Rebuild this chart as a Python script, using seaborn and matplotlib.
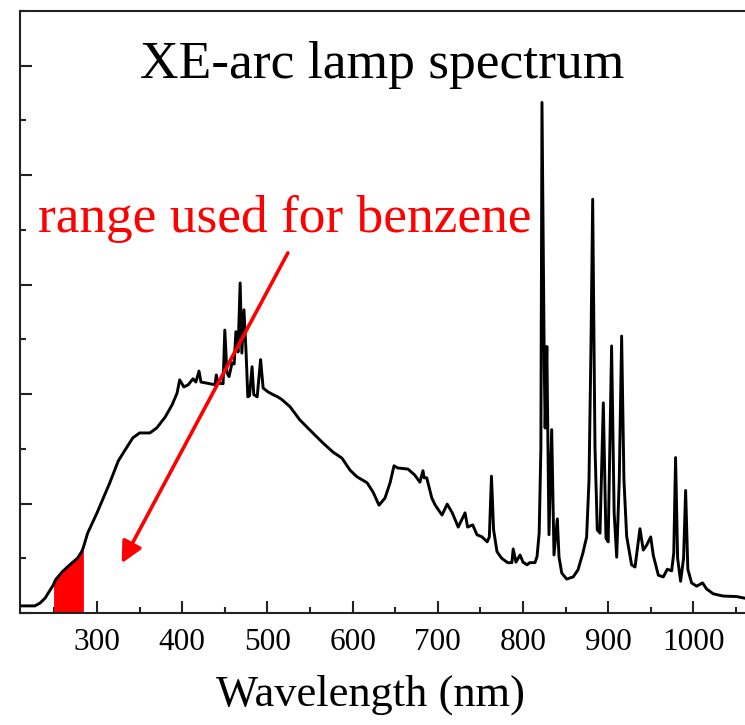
import matplotlib
matplotlib.use("Agg")
import matplotlib.pyplot as plt
from matplotlib.ticker import MultipleLocator, NullFormatter
import seaborn as sns
import pandas as pd
import numpy as np

# ---- data ----
wavelength = [209.6, 220, 227, 233, 239, 245, 249, 251, 259, 268, 277, 282, 284, 289, 300,
              315, 321, 325, 333, 342, 350, 362, 370, 380, 388, 394, 397, 402, 407, 412.7,
              416, 419.7, 422, 429, 438.5, 440, 442, 448, 450, 452.5, 455, 458.5, 461, 463,
              465.5, 468, 470, 472.5, 475, 477, 479, 482, 484, 488, 492, 495, 500.7, 506.6,
              512, 517, 526.5, 538, 552, 565, 577, 587.5, 597, 605, 617, 624, 631, 638, 644,
              648.6, 653, 665, 673, 679, 682.6, 684, 687, 693, 697, 705, 711, 717, 724, 732,
              735, 741, 746, 752, 758, 760.5, 763, 765.5, 769.5, 775, 782, 787, 788.5, 791.8,
              796.5, 800, 804.7, 808, 814, 816.5, 819, 821, 822.3, 825, 826, 828, 830.5,
              833.7, 836.4, 840.3, 842.3, 845.5, 851.3, 859, 864.6, 870.4, 874.7, 877.5,
              879.8, 881.8, 884.5, 887.2, 890.4, 894.3, 897.4, 900, 904, 907, 910, 913,
              915.8, 918.5, 921.7, 927.5, 931.5, 934.6, 937.3, 941.2, 945.2, 949.9, 953,
              958.9, 964.7, 969.4, 974.5, 977, 979.1, 981.5, 985, 988.5, 990.9, 993.5,
              997.9, 1003.8, 1010.8, 1015.5, 1023.4, 1035, 1050.8, 1060.6]
intensity = [0.13, 0.13, 0.13, 0.18, 0.27, 0.42, 0.52, 0.60, 0.75, 0.88, 1.00, 1.12, 1.20, 1.46, 1.83,
             2.38, 2.62, 2.78, 2.98, 3.20, 3.29, 3.29, 3.38, 3.58, 3.80, 4.02, 4.26, 4.13, 4.17, 4.28,
             4.22, 4.42, 4.22, 4.20, 4.17, 4.35, 4.20, 4.19, 5.17, 4.39, 4.32, 4.57, 4.55, 5.14,
             4.77, 6.03, 4.75, 5.54, 4.75, 3.95, 3.97, 4.50, 3.99, 3.95, 4.63, 4.11, 4.04, 3.99,
             3.95, 3.90, 3.77, 3.53, 3.31, 3.11, 2.94, 2.83, 2.61, 2.49, 2.38, 2.21, 1.97, 2.10, 2.38,
             2.69, 2.65, 2.63, 2.52, 2.39, 2.60, 2.47, 2.47, 2.10, 1.97, 1.79, 1.99, 1.83, 1.57, 1.83,
             1.57, 1.61, 1.43, 1.39, 1.30, 1.39, 2.50, 1.52, 1.12, 1.00, 0.92, 0.92, 1.17, 0.93,
             1.06, 0.93, 0.88, 0.92, 0.92, 1.03, 1.46, 3.00, 9.33, 4.50, 3.38, 4.87, 1.43,
             3.35, 1.06, 1.72, 1.02, 0.73, 0.62, 0.66, 0.79, 1.10, 1.39, 2.43,
             4.87, 7.56, 3.04, 1.52, 1.46, 3.84, 1.37, 1.30, 4.88, 1.83, 1.02, 2.43,
             5.06, 2.43, 1.40, 0.88, 0.84, 1.21, 1.54, 1.15, 1.24, 1.39, 1.05,
             0.69, 0.66, 0.80, 0.77, 1.10, 2.84, 1.00, 0.58, 1.00, 2.24, 0.80,
             0.55, 0.49, 0.55, 0.44, 0.35, 0.31, 0.30, 0.27]
benzene_range = [249, 284]
x_ticks = [300, 400, 500, 600, 700, 800, 900, 1000]
title_text = "XE-arc lamp spectrum"
range_text = "range used for benzene"
x_label = "Wavelength (nm)"
arrow_start = (524, 6.58)
arrow_end = (329, 0.91)

df = pd.DataFrame({"wavelength": wavelength, "intensity": intensity})

sns.set_theme(style="ticks")
plt.rcParams["font.family"] = ["Liberation Serif", "DejaVu Serif"]
plt.rcParams["text.color"] = "black"
plt.rcParams["axes.labelcolor"] = "black"
plt.rcParams["xtick.color"] = "black"
plt.rcParams["ytick.color"] = "black"

fig = plt.figure(figsize=(7.45, 7.25), dpi=100)
ax = fig.add_axes([20 / 745, 112 / 725, 725 / 745, 602 / 725])

wl = np.array(wavelength)
iv = np.array(intensity)
mask = (wl >= benzene_range[0]) & (wl <= benzene_range[1])
ax.fill_between(wl, 0, iv, where=mask, color="#ff0000", linewidth=0, zorder=2)

sns.lineplot(data=df, x="wavelength", y="intensity", color="black", linewidth=2.1,
             sort=False, estimator=None, ax=ax, zorder=3)

ax.set_xlim(209.6, 1060.6)
ax.set_ylim(0, 11)
ax.set_xticks(x_ticks)
ax.xaxis.set_minor_locator(MultipleLocator(50))
ax.yaxis.set_major_locator(MultipleLocator(2))
ax.yaxis.set_minor_locator(MultipleLocator(1))
ax.yaxis.set_major_formatter(NullFormatter())
ax.set_ylabel("")
ax.tick_params(axis="both", which="major", direction="in", length=8.5, width=1.5,
               color="#222222", labelcolor="black", labelsize=22.5, pad=10.5)
ax.tick_params(axis="both", which="minor", direction="in", length=4.3, width=1.5,
               color="#222222")
ax.tick_params(axis="x", which="both", top=False)
ax.tick_params(axis="y", which="both", right=False)
for name in ["left", "bottom", "top"]:
    ax.spines[name].set_linewidth(1.5)
    ax.spines[name].set_color("#222222")
ax.spines["right"].set_visible(False)

ax.set_xlabel(x_label, fontsize=32, color="black")
ax.xaxis.label.set_va("baseline")
ax.xaxis.set_label_coords((370 - 20) / 725, (613 - 706) / 602)

fig.text(382 / 745, 1 - 78 / 725, title_text, fontsize=38.5, ha="center", va="baseline",
         color="black")
fig.text(38 / 745, 1 - 232 / 725, range_text, fontsize=38.4, ha="left", va="baseline",
         color="#ff0000")

ax.annotate("", xy=arrow_end, xytext=arrow_start,
            arrowprops=dict(arrowstyle="-|>", color="#ff0000", lw=2.6,
                            mutation_scale=32, shrinkA=0, shrinkB=0), zorder=4)

fig.savefig("out.png", dpi=100)
